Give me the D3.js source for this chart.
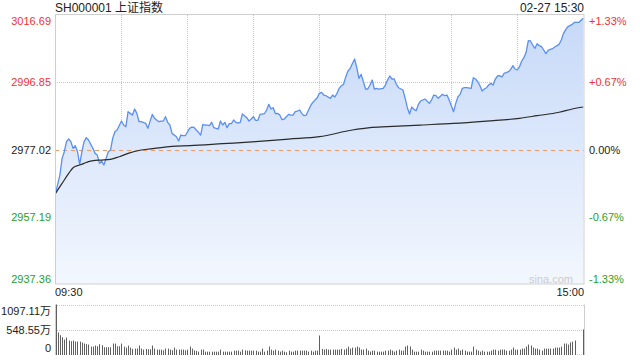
<!DOCTYPE html>
<html><head><meta charset="utf-8">
<script src="https://cdn.jsdelivr.net/npm/d3@7"></script>
<style>
html,body{margin:0;padding:0;background:#fff;}
svg{display:block;font-family:"Liberation Sans",Arial,"Noto Sans CJK SC",sans-serif;}
</style></head>
<body><svg id="c" width="640" height="360"></svg>
<script>
const title = "SH000001 上证指数";
const stamp = "02-27 15:30";
const prevClose = 2977.02;
const priceTicks = [3016.69, 2996.85, 2977.02, 2957.19, 2937.36];
const pctTicks = ["+1.33%", "+0.67%", "0.00%", "-0.67%", "-1.33%"];
const volTicks = [1097.11, 548.55, 0];
const volTickLabels = ["1097.11万", "548.55万", "0"];
const timeLabels = ["09:30", "15:00"];

// price line: minute index (0..240) and price
const priceMin = [0,2,3,4,5,6,7,8,9,10,11,12,13,14,15,17,18,19,20,21,22,23,24,25,26,27,28,30,31,32,33,34,35,36,37,38,39,41,42,44,45,47,48,49,50,51,52,53,55,56,57,58,59,61,62,63,64,65,66,67,68,69,70,71,72,74,75,76,77,78,79,80,81,82,83,84,85,87,88,89,90,91,92,93,95,96,97,98,99,100,101,102,103,104,106,107,108,109,110,111,112,113,114,116,117,119,120,
121,122,123,125,126,127,128,129,130,131,132,133,134,136,137,138,139,140,141,142,143,144,145,146,147,149,150,151,152,153,154,155,156,158,159,160,161,162,163,164,165,166,167,168,170,171,172,173,174,176,177,178,179,180,181,182,183,184,185,186,187,189,190,191,192,193,194,195,196,197,198,199,200,201,202,203,204,206,207,208,209,210,211,212,213,214,215,216,217,218,219,220,221,222,223,224,225,226,227,229,230,231,232,233,235,236,237,238,239,240];
const priceVal = [2964.08,2969.49,2974.41,2976.37,2979.33,2980.11,2979.33,2977.36,2978.14,2976.37,2972.64,2976.37,2979.33,2980.51,2979.82,2977.36,2975.88,2975.39,2972.93,2973.62,2972.44,2974.41,2976.37,2976.87,2980.31,2982.28,2982.77,2985.42,2984.24,2983.75,2988.17,2987.68,2987.19,2988.96,2987.68,2985.22,2985.22,2984.73,2983.26,2987.39,2986.21,2985.22,2985.42,2985.42,2986.70,2985.03,2984.24,2981.78,2980.80,2979.52,2981.29,2981.09,2981.09,2983.26,2983.65,2983.55,2982.77,2982.08,2981.29,2984.44,2984.24,2984.24,2984.05,2985.03,2983.46,2983.06,2985.42,2984.24,2985.03,2983.46,2984.64,2984.64,2985.72,2985.03,2984.83,2985.03,2987.49,2986.41,2985.42,2986.01,2986.70,2985.62,2985.62,2987.39,2987.58,2988.67,2990.34,2988.96,2989.35,2987.58,2987.68,2987.19,2985.82,2986.01,2987.39,2987.19,2987.19,2988.17,2988.37,2988.67,2987.68,2986.99,2987.19,2989.94,2990.93,2992.30,2993.58,
2993.88,2993.09,2992.89,2992.11,2993.09,2992.50,2993.58,2995.06,2995.84,2996.24,2998.50,3000.17,3000.96,3003.71,3001.15,2998.01,2999.19,2997.02,2994.86,2994.86,2996.04,2997.52,2994.86,2995.06,2994.86,2995.06,2996.04,2997.52,2998.70,2997.81,2997.81,2996.24,2995.25,2994.57,2992.11,2989.35,2987.49,2989.55,2988.86,2988.47,2990.34,2991.32,2991.62,2991.91,2990.63,2991.62,2993.09,2992.89,2992.11,2993.29,2992.89,2993.09,2991.62,2989.94,2988.17,2990.63,2992.60,2993.29,2995.06,2995.25,2995.25,2995.06,2998.20,2997.81,2997.02,2995.84,2994.27,2994.86,2995.25,2996.04,2996.53,2996.04,2997.81,2998.70,2998.80,2998.40,2999.48,2999.97,3000.66,3001.74,3000.76,3000.47,3001.45,3003.12,3004.10,3005.68,3009.12,3009.02,3007.84,3006.86,3008.23,3007.64,3007.35,3006.37,3005.28,3006.27,3006.56,3006.76,3007.25,3008.04,3009.32,3011.28,3012.36,3013.25,3013.94,3014.53,3014.53,3014.53,3015.12,3015.71];

// average price line
const avgMin = [0,3,6,8,11,13,15,18,21,25,29,33,39,45,53,61,76,91,106,120,135,143,151,166,181,196,211,219,229,235,240];
const avgVal = [2964.08,2967.03,2969.98,2971.66,2972.44,2972.93,2973.43,2973.82,2973.92,2974.11,2974.90,2975.88,2976.87,2977.36,2977.95,2978.14,2978.73,2979.33,2980.11,2980.80,2982.77,2983.46,2983.75,2984.24,2984.73,2985.42,2986.21,2986.99,2988.00,2988.96,2989.55];

// volume per minute (万)
const volume = [1097,490,431,387,336,380,314,300,314,292,
292,292,270,249,234,227,183,183,205,190,
234,212,168,168,168,168,249,249,190,190,
249,183,161,205,161,132,139,139,205,139,
117,132,124,124,205,139,117,117,117,102,
139,139,117,102,161,117,117,117,117,102,
117,183,139,102,88,73,117,117,73,73,
73,73,73,73,73,117,73,73,73,73,
73,95,95,95,73,117,102,95,95,95,
95,95,73,73,139,73,95,183,117,95,
117,95,73,95,73,58,95,73,73,95,
95,95,95,95,95,73,95,73,95,95,
424,
132,117,132,117,117,117,117,117,117,132,
117,139,183,139,161,161,183,161,117,117,
139,95,73,95,95,73,73,73,73,95,
95,117,95,73,95,117,95,95,183,205,
183,117,73,73,73,117,95,73,73,73,
73,95,95,95,95,95,95,95,73,117,
161,117,139,95,117,95,73,73,73,183,
117,95,73,95,73,73,73,95,117,117,
95,117,117,117,95,95,117,161,117,117,
117,139,139,183,227,205,161,139,139,117,
95,139,139,139,139,139,161,161,161,183,
249,249,227,270,292,314,6,6,6,556];

const RED = "#ee3434", GREEN = "#1f9f2a", DARK = "#222";
const L = 55, R = 584, T = 15, B = 284;
const VT = 304.5, VB = 355;
const svg = d3.select("#c");

const x = d3.scaleLinear().domain([0, 240]).range([L + 0.5, R - 0.7]);
const y = d3.scaleLinear().domain([priceTicks[4], priceTicks[0]]).range([B, T]);
const yv = d3.scaleLinear().domain([0, volTicks[0]]).range([VB, VT]);

// gradient
const defs = svg.append("defs");
const g = defs.append("linearGradient").attr("id", "ag").attr("gradientUnits", "userSpaceOnUse")
  .attr("x1", 0).attr("x2", 0).attr("y1", T).attr("y2", B);
g.append("stop").attr("offset", "0%").attr("stop-color", "#c6d9f8");
g.append("stop").attr("offset", "100%").attr("stop-color", "#f3f7fe");

// vertical grid (price panel only)
const vgrid = d3.range(1, 8).map(i => i * 30);
svg.append("g").selectAll("line").data(vgrid).join("line")
  .attr("x1", d => Math.round(x(d)) + 0.5).attr("x2", d => Math.round(x(d)) + 0.5)
  .attr("y1", T).attr("y2", B)
  .attr("stroke", "#c8c8c8").attr("stroke-dasharray", "1,1");

// horizontal grid (price)
[priceTicks[1], priceTicks[3]].forEach(v => {
  svg.append("line").attr("x1", L).attr("x2", R)
    .attr("y1", Math.round(y(v)) + 0.5).attr("y2", Math.round(y(v)) + 0.5)
    .attr("stroke", "#c8c8c8").attr("stroke-dasharray", "1,1");
});

// area + lines
const pts = priceMin.map((m, i) => [m, priceVal[i]]);
svg.append("path").datum(pts)
  .attr("d", d3.area().x(d => x(d[0])).y0(B).y1(d => y(d[1])))
  .attr("fill", "url(#ag)");

svg.append("line").attr("x1", L).attr("x2", R)
  .attr("y1", Math.round(y(prevClose)) + 0.5).attr("y2", Math.round(y(prevClose)) + 0.5)
  .attr("stroke", "#f09a6a").attr("stroke-dasharray", "4,4");

svg.append("path").datum(pts)
  .attr("d", d3.line().x(d => x(d[0])).y(d => y(d[1])))
  .attr("fill", "none").attr("stroke", "#5a8ff2").attr("stroke-width", 1.3).attr("stroke-linejoin", "round");

const apts = avgMin.map((m, i) => [m, avgVal[i]]);
svg.append("path").datum(apts)
  .attr("d", d3.line().curve(d3.curveMonotoneX).x(d => x(d[0])).y(d => y(d[1])))
  .attr("fill", "none").attr("stroke", "#2b2b2b").attr("stroke-width", 1.2);

// border
svg.append("rect").attr("x", L + 0.5).attr("y", T - 0.5).attr("width", R - L - 0.5).attr("height", B - T + 0.5)
  .attr("fill", "none").attr("stroke", "#cfcfcf");

// volume grid
volTicks.slice(0, 2).forEach(v => {
  svg.append("line").attr("x1", L).attr("x2", R)
    .attr("y1", Math.round(yv(v)) + 0.5).attr("y2", Math.round(yv(v)) + 0.5)
    .attr("stroke", "#c8c8c8").attr("stroke-dasharray", "1,1");
});
svg.append("line").attr("x1", L + 0.5).attr("x2", L + 0.5).attr("y1", VT).attr("y2", VB).attr("stroke", "#cfcfcf");
svg.append("line").attr("x1", R + 0.5).attr("x2", R + 0.5).attr("y1", VT).attr("y2", VB).attr("stroke", "#cfcfcf");

// volume bars
svg.append("g").selectAll("rect").data(volume).join("rect")
  .attr("x", (d, i) => Math.round(x(i)))
  .attr("width", 1)
  .attr("y", d => yv(d))
  .attr("height", d => VB - yv(d))
  .attr("fill", "#5f5f5f");

// labels
const colorFor = i => i < 2 ? RED : (i === 2 ? DARK : GREEN);
priceTicks.forEach((v, i) => {
  let yy = y(v), base = "central";
  if (i === 0) { yy = T + 1.5; base = "hanging"; }
  if (i === 4) { yy = B - 1; base = "auto"; }
  svg.append("text").attr("x", 51).attr("y", yy).attr("text-anchor", "end")
    .attr("dominant-baseline", base).attr("font-size", 11).attr("fill", colorFor(i)).text(v.toFixed(2));
  svg.append("text").attr("x", 589).attr("y", yy).attr("text-anchor", "start")
    .attr("dominant-baseline", base).attr("font-size", 11).attr("fill", colorFor(i)).text(pctTicks[i]);
});

volTicks.forEach((v, i) => {
  let yy = yv(v), base = "central";
  if (i === 0) { yy = VT + 2; base = "hanging"; }
  if (i === 2) { yy = VB - 3; base = "auto"; }
  svg.append("text").attr("x", 51).attr("y", yy).attr("text-anchor", "end")
    .attr("dominant-baseline", base).attr("font-size", 11).attr("fill", DARK).text(volTickLabels[i]);
});

svg.append("text").attr("x", L).attr("y", 296).attr("font-size", 11).attr("fill", DARK).text(timeLabels[0]);
svg.append("text").attr("x", R).attr("y", 296).attr("text-anchor", "end").attr("font-size", 11).attr("fill", DARK).text(timeLabels[1]);

svg.append("text").attr("x", L).attr("y", 12).attr("font-size", 12).attr("fill", DARK).text(title);
svg.append("text").attr("x", R).attr("y", 12).attr("text-anchor", "end").attr("font-size", 12).attr("fill", DARK).text(stamp);

svg.append("text").attr("x", 573).attr("y", 283).attr("text-anchor", "end").attr("font-size", 11).attr("fill", "#cccccc").text("sina.com");
</script></body></html>
